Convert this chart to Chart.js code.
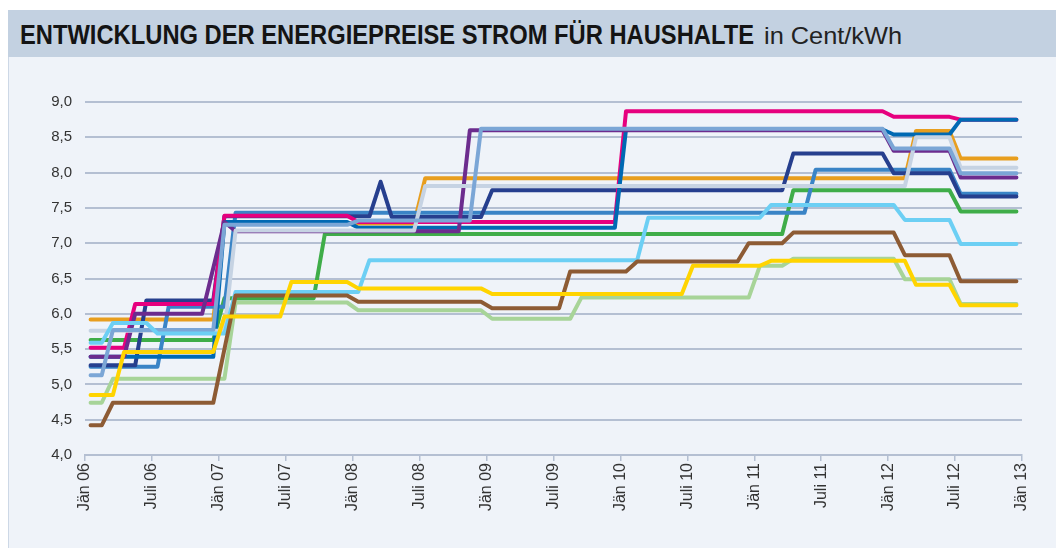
<!DOCTYPE html>
<html>
<head>
<meta charset="utf-8">
<script src="https://cdn.jsdelivr.net/npm/chart.js@4.4.1/dist/chart.umd.min.js"></script>
<style>
  html, body { margin: 0; padding: 0; background: #fff; }
  body { width: 1056px; height: 548px; position: relative; overflow: hidden; font-family: "Liberation Sans", Arial, sans-serif; }
  #head { position: absolute; left: 8px; top: 10px; width: 1048px; height: 47px; background: #c3d1e1; }
  #head span { position: absolute; white-space: nowrap; transform-origin: 0 0; }
  #head .b { left: 12px; top: 12px; line-height: 27px; font-size: 27px; font-weight: bold; color: #141414; }
  #head .r { left: 756px; top: 14px; line-height: 24px; font-size: 24px; font-weight: normal; color: #222; }
  #panel { position: absolute; left: 8px; top: 57px; width: 1048px; height: 491px; background: #eff3f9; }
  #panel:before { content: ""; position: absolute; left: 0; top: 0; bottom: 0; width: 1px; background: #cdd8e6; }
</style>
</head>
<body>
<div id="head"><span class="b" id="tBold">ENTWICKLUNG DER ENERGIEPREISE STROM FÜR HAUSHALTE</span><span class="r" id="tReg">in Cent/kWh</span></div>
<div id="panel"><canvas id="chart" width="1048" height="491"></canvas></div>
<script>
// monthly prices Jän 06 .. Dez 12 (one row per year)
const pink = [
  5.52,5.52,5.52,5.52,6.14,6.14,6.14,6.14,6.14,6.14,6.14,6.14,
  7.39,7.39,7.39,7.39,7.39,7.39,7.39,7.39,7.39,7.39,7.39,7.39,
  7.30,7.30,7.30,7.30,7.30,7.30,7.30,7.30,7.30,7.30,7.30,7.30,
  7.30,7.30,7.30,7.30,7.30,7.30,7.30,7.30,7.30,7.30,7.30,7.30,
  8.87,8.87,8.87,8.87,8.87,8.87,8.87,8.87,8.87,8.87,8.87,8.87,
  8.87,8.87,8.87,8.87,8.87,8.87,8.87,8.87,8.87,8.87,8.87,8.87,
  8.79,8.79,8.79,8.79,8.79,8.79,8.75,8.75,8.75,8.75,8.75,8.75
];
const blue = [
  5.39,5.39,5.39,5.39,5.39,5.39,5.39,5.39,5.39,5.39,5.39,5.39,
  7.30,7.30,7.30,7.30,7.30,7.30,7.30,7.30,7.30,7.30,7.30,7.30,
  7.22,7.22,7.22,7.22,7.22,7.22,7.22,7.22,7.22,7.22,7.22,7.22,
  7.22,7.22,7.22,7.22,7.22,7.22,7.22,7.22,7.22,7.22,7.22,7.22,
  8.61,8.61,8.61,8.61,8.61,8.61,8.61,8.61,8.61,8.61,8.61,8.61,
  8.61,8.61,8.61,8.61,8.61,8.61,8.61,8.61,8.61,8.61,8.61,8.61,
  8.54,8.54,8.54,8.54,8.54,8.54,8.75,8.75,8.75,8.75,8.75,8.75
];
const orange = [
  5.92,5.92,5.92,5.92,5.92,5.92,5.92,5.92,5.92,5.92,5.92,5.92,
  7.28,7.28,7.28,7.28,7.28,7.28,7.28,7.28,7.28,7.28,7.28,7.28,
  7.28,7.28,7.28,7.28,7.28,7.28,7.92,7.92,7.92,7.92,7.92,7.92,
  7.92,7.92,7.92,7.92,7.92,7.92,7.92,7.92,7.92,7.92,7.92,7.92,
  7.92,7.92,7.92,7.92,7.92,7.92,7.92,7.92,7.92,7.92,7.92,7.92,
  7.92,7.92,7.92,7.92,7.92,7.92,7.92,7.92,7.92,7.92,7.92,7.92,
  7.92,7.92,8.59,8.59,8.59,8.59,8.20,8.20,8.20,8.20,8.20,8.20
];
const lightGray = [
  5.76,5.76,5.76,5.76,5.76,5.76,5.76,5.76,5.76,5.76,5.76,5.76,
  5.76,7.18,7.18,7.18,7.18,7.18,7.18,7.18,7.18,7.18,7.18,7.18,
  7.18,7.18,7.18,7.18,7.18,7.18,7.81,7.81,7.81,7.81,7.81,7.81,
  7.81,7.81,7.81,7.81,7.81,7.81,7.81,7.81,7.81,7.81,7.81,7.81,
  7.81,7.81,7.81,7.81,7.81,7.81,7.81,7.81,7.81,7.81,7.81,7.81,
  7.81,7.81,7.81,7.81,7.81,7.81,7.81,7.81,7.81,7.81,7.81,7.81,
  7.81,7.81,8.50,8.50,8.50,8.50,8.07,8.07,8.07,8.07,8.07,8.07
];
const paleBlue = [
  5.13,5.13,5.77,5.77,5.77,5.77,5.77,5.77,5.77,5.77,5.77,5.77,
  7.26,7.26,7.26,7.26,7.26,7.26,7.26,7.26,7.26,7.26,7.26,7.26,
  7.32,7.32,7.32,7.32,7.32,7.32,7.32,7.32,7.32,7.32,7.32,8.62,
  8.62,8.62,8.62,8.62,8.62,8.62,8.62,8.62,8.62,8.62,8.62,8.62,
  8.62,8.62,8.62,8.62,8.62,8.62,8.62,8.62,8.62,8.62,8.62,8.62,
  8.62,8.62,8.62,8.62,8.62,8.62,8.62,8.62,8.62,8.62,8.62,8.62,
  8.34,8.34,8.34,8.34,8.34,8.34,7.99,7.99,7.99,7.99,7.99,7.99
];
const purple = [
  5.39,5.39,5.39,5.39,6.00,6.00,6.00,6.00,6.00,6.00,6.00,6.65,
  7.30,7.17,7.17,7.17,7.17,7.17,7.17,7.17,7.17,7.17,7.17,7.17,
  7.17,7.17,7.17,7.17,7.17,7.17,7.17,7.17,7.17,7.17,8.60,8.60,
  8.60,8.60,8.60,8.60,8.60,8.60,8.60,8.60,8.60,8.60,8.60,8.60,
  8.60,8.60,8.60,8.60,8.60,8.60,8.60,8.60,8.60,8.60,8.60,8.60,
  8.60,8.60,8.60,8.60,8.60,8.60,8.60,8.60,8.60,8.60,8.60,8.60,
  8.31,8.31,8.31,8.31,8.31,8.31,7.93,7.93,7.93,7.93,7.93,7.93
];
const navy = [
  5.27,5.27,5.27,5.27,5.27,6.19,6.19,6.19,6.19,6.19,6.19,6.19,
  7.38,7.38,7.38,7.38,7.38,7.38,7.38,7.38,7.38,7.38,7.38,7.38,
  7.38,7.38,7.87,7.37,7.37,7.37,7.37,7.37,7.37,7.37,7.37,7.37,
  7.75,7.75,7.75,7.75,7.75,7.75,7.75,7.75,7.75,7.75,7.75,7.75,
  7.75,7.75,7.75,7.75,7.75,7.75,7.75,7.75,7.75,7.75,7.75,7.75,
  7.75,7.75,7.75,8.27,8.27,8.27,8.27,8.27,8.27,8.27,8.27,8.27,
  7.99,7.99,7.99,7.99,7.99,7.99,7.66,7.66,7.66,7.66,7.66,7.66
];
const steelBlue = [
  5.25,5.25,5.25,5.25,5.25,5.25,5.25,6.10,6.10,6.10,6.10,6.10,
  6.10,7.43,7.43,7.43,7.43,7.43,7.43,7.43,7.43,7.43,7.43,7.43,
  7.43,7.43,7.43,7.43,7.43,7.43,7.43,7.43,7.43,7.43,7.43,7.43,
  7.43,7.43,7.43,7.43,7.43,7.43,7.43,7.43,7.43,7.43,7.43,7.43,
  7.43,7.43,7.43,7.43,7.43,7.43,7.43,7.43,7.43,7.43,7.43,7.43,
  7.43,7.43,7.43,7.43,7.43,8.04,8.04,8.04,8.04,8.04,8.04,8.04,
  8.04,8.04,8.04,8.04,8.04,8.04,7.70,7.70,7.70,7.70,7.70,7.70
];
const green = [
  5.63,5.63,5.63,5.63,5.63,5.63,5.63,5.63,5.63,5.63,5.63,5.63,
  6.22,6.22,6.22,6.22,6.22,6.22,6.22,6.22,6.22,7.13,7.13,7.13,
  7.13,7.13,7.13,7.13,7.13,7.13,7.13,7.13,7.13,7.13,7.13,7.13,
  7.13,7.13,7.13,7.13,7.13,7.13,7.13,7.13,7.13,7.13,7.13,7.13,
  7.13,7.13,7.13,7.13,7.13,7.13,7.13,7.13,7.13,7.13,7.13,7.13,
  7.13,7.13,7.13,7.75,7.75,7.75,7.75,7.75,7.75,7.75,7.75,7.75,
  7.75,7.75,7.75,7.75,7.75,7.75,7.45,7.45,7.45,7.45,7.45,7.45
];
const cyan = [
  5.59,5.59,5.87,5.87,5.87,5.87,5.72,5.72,5.72,5.72,5.72,5.72,
  5.72,6.31,6.31,6.31,6.31,6.31,6.31,6.31,6.31,6.31,6.31,6.31,
  6.31,6.76,6.76,6.76,6.76,6.76,6.76,6.76,6.76,6.76,6.76,6.76,
  6.76,6.76,6.76,6.76,6.76,6.76,6.76,6.76,6.76,6.76,6.76,6.76,
  6.76,6.76,7.36,7.36,7.36,7.36,7.36,7.36,7.36,7.36,7.36,7.36,
  7.36,7.54,7.54,7.54,7.54,7.54,7.54,7.54,7.54,7.54,7.54,7.54,
  7.54,7.33,7.33,7.33,7.33,7.33,6.99,6.99,6.99,6.99,6.99,6.99
];
const brown = [
  4.42,4.42,4.74,4.74,4.74,4.74,4.74,4.74,4.74,4.74,4.74,4.74,
  5.50,6.26,6.26,6.26,6.26,6.26,6.26,6.26,6.26,6.26,6.26,6.26,
  6.17,6.17,6.17,6.17,6.17,6.17,6.17,6.17,6.17,6.17,6.17,6.17,
  6.08,6.08,6.08,6.08,6.08,6.08,6.08,6.60,6.60,6.60,6.60,6.60,
  6.60,6.74,6.74,6.74,6.74,6.74,6.74,6.74,6.74,6.74,6.74,7.00,
  7.00,7.00,7.00,7.15,7.15,7.15,7.15,7.15,7.15,7.15,7.15,7.15,
  7.15,6.83,6.83,6.83,6.83,6.83,6.46,6.46,6.46,6.46,6.46,6.46
];
const lightGreen = [
  4.74,4.74,5.08,5.08,5.08,5.08,5.08,5.08,5.08,5.08,5.08,5.08,
  5.08,6.16,6.16,6.16,6.16,6.16,6.16,6.16,6.16,6.16,6.16,6.16,
  6.05,6.05,6.05,6.05,6.05,6.05,6.05,6.05,6.05,6.05,6.05,6.05,
  5.93,5.93,5.93,5.93,5.93,5.93,5.93,5.93,6.23,6.23,6.23,6.23,
  6.23,6.23,6.23,6.23,6.23,6.23,6.23,6.23,6.23,6.23,6.23,6.23,
  6.68,6.68,6.68,6.78,6.78,6.78,6.78,6.78,6.78,6.78,6.78,6.78,
  6.78,6.49,6.49,6.49,6.49,6.49,6.14,6.14,6.14,6.14,6.14,6.14
];
const yellow = [
  4.85,4.85,4.85,5.46,5.46,5.46,5.46,5.46,5.46,5.46,5.46,5.46,
  5.96,5.96,5.96,5.96,5.96,5.96,6.45,6.45,6.45,6.45,6.45,6.45,
  6.36,6.36,6.36,6.36,6.36,6.36,6.36,6.36,6.36,6.36,6.36,6.36,
  6.28,6.28,6.28,6.28,6.28,6.28,6.28,6.28,6.28,6.28,6.28,6.28,
  6.28,6.28,6.28,6.28,6.28,6.28,6.68,6.68,6.68,6.68,6.68,6.68,
  6.68,6.75,6.75,6.75,6.75,6.75,6.75,6.75,6.75,6.75,6.75,6.75,
  6.75,6.75,6.41,6.41,6.41,6.41,6.12,6.12,6.12,6.12,6.12,6.12
];

const xTickLabels = ["Jän 06","Juli 06","Jän 07","Juli 07","Jän 08","Juli 08","Jän 09",
  "Juli 09","Jän 10","Juli 10","Jän 11","Juli 11","Jän 12","Juli 12","Jän 13"];

// first entry is drawn on top
const series = [
  { values: yellow, color: "#ffd400" },
  { values: brown, color: "#8d5b34" },
  { values: cyan, color: "#6ccff4" },
  { values: paleBlue, color: "#7ba6d6" },
  { values: lightGray, color: "#c6d3e3" },
  { values: purple, color: "#6c2c8e" },
  { values: blue, color: "#0069b3" },
  { values: pink, color: "#e6007e" },
  { values: navy, color: "#263f8e" },
  { values: steelBlue, color: "#3a84c6" },
  { values: orange, color: "#e89e1e" },
  { values: green, color: "#3fad49" },
  { values: lightGreen, color: "#a7d498" }
];

const gridColor = "#b4bfd2";
const fontFamily = "'Liberation Sans', Arial, sans-serif";

function fitTitle() {
  const parts = [["tBold", 734], ["tReg", 138]];
  parts.forEach(([id, w]) => {
    const el = document.getElementById(id);
    const r = el.getBoundingClientRect().width;
    if (r > 0) el.style.transform = "scaleX(" + (w / r) + ")";
  });
}
fitTitle();

new Chart(document.getElementById("chart"), {
  type: "line",
  data: {
    datasets: series.map((s) => ({
      data: s.values.map((v, i) => ({ x: i + 0.5, y: v })),
      borderColor: s.color,
      backgroundColor: s.color,
      borderWidth: 4,
      pointRadius: 0,
      tension: 0,
      borderJoinStyle: "round",
      borderCapStyle: "round",
      fill: false
    }))
  },
  options: {
    responsive: false,
    animation: false,
    layout: { padding: { left: 0, right: 34, top: 45, bottom: 0 } },
    plugins: { legend: { display: false }, tooltip: { enabled: false } },
    scales: {
      x: {
        type: "linear", min: 0, max: 84,
        afterFit: (s) => { s.height = 93; },
        ticks: {
          stepSize: 6, autoSkip: false, minRotation: 90, maxRotation: 90,
          padding: 2, color: "#333", font: { family: fontFamily, size: 16 },
          callback: (v) => xTickLabels[Math.round(v / 6)]
        },
        grid: { drawOnChartArea: false, drawTicks: true, tickLength: 6, color: gridColor, lineWidth: 1.5 },
        border: { color: gridColor, width: 2 }
      },
      y: {
        min: 4, max: 9,
        afterFit: (s) => { s.width = 77; },
        ticks: {
          stepSize: 0.5, padding: 13, color: "#333", font: { family: fontFamily, size: 15 },
          callback: (v) => v.toFixed(1).replace(".", ",")
        },
        grid: { color: gridColor, lineWidth: 2, drawTicks: false },
        border: { display: false }
      }
    }
  }
});
</script>
</body>
</html>
